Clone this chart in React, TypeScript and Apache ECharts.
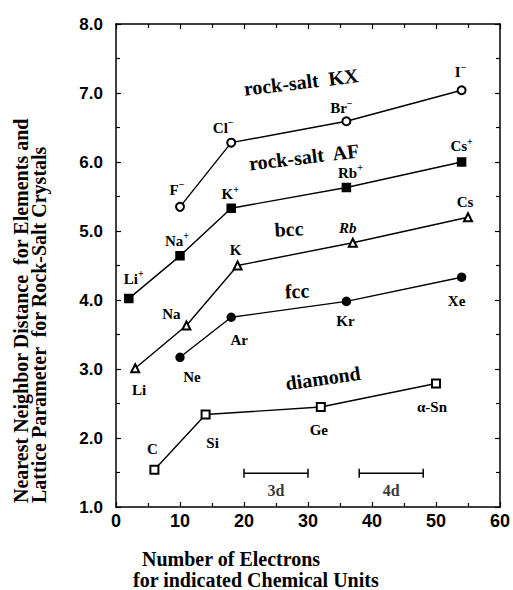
import React, { useEffect, useRef } from "react";
import * as echarts from "echarts";

// ---- data ----
const kxElectrons = [10, 18, 36, 54];
const kxDistance = [5.35, 6.28, 6.59, 7.04];
const kxIons = ["F", "Cl", "Br", "I"];

const afElectrons = [2, 10, 18, 36, 54];
const afDistance = [4.02, 4.64, 5.33, 5.63, 6.0];
const afIons = ["Li", "Na", "K", "Rb", "Cs"];

const bccElectrons = [3, 11, 19, 37, 55];
const bccDistance = [3.01, 3.63, 4.5, 4.83, 5.2];
const bccNames = ["Li", "Na", "K", "Rb", "Cs"];

const fccElectrons = [10, 18, 36, 54];
const fccDistance = [3.17, 3.75, 3.98, 4.33];
const fccNames = ["Ne", "Ar", "Kr", "Xe"];

const diaElectrons = [6, 14, 32, 50];
const diaDistance = [1.54, 2.34, 2.45, 2.79];
const diaNames = ["C", "Si", "Ge", "α-Sn"];

const bandNames = ["3d", "4d"];
const bandFrom = [20, 38];
const bandTo = [30, 48];
const bandLevel = 1.49;

const yTicks = [1, 2, 3, 4, 5, 6, 7, 8];

// ---- label offsets (style, px) ----
const kxOffsets = [[-3, -17], [-8, -15], [-5, -13], [-1, -18]];
const afOffsets = [[5, -20], [-3, -15], [-1, -14], [4, -15], [0, -16]];
const bccOffsets = [[4, 22], [-15, -12], [-2, -16], [-5, -15], [-3, -15]];
const fccOffsets = [[12, 20], [8, 23], [-1, 20], [-5, 24]];
const diaOffsets = [[-2, -21], [7, 28], [-2, 23], [-4, 24]];

const SERIF = "'Liberation Serif', 'Times New Roman', serif";
const SANS = "'Liberation Sans', Arial, sans-serif";

const rich = {
  n: { fontFamily: SERIF, fontWeight: "bold", fontSize: 15, color: "#000", lineHeight: 20, verticalAlign: "middle" },
  i: { fontFamily: SERIF, fontWeight: "bold", fontStyle: "italic", fontSize: 15, color: "#000", lineHeight: 20, verticalAlign: "middle" },
  s: { fontFamily: SERIF, fontWeight: "bold", fontSize: 10, color: "#000", lineHeight: 10, verticalAlign: "top" },
};

function buildData(xs: number[], ys: number[], names: string[], offsets: number[][], charge: string | null, italic: string[] = []) {
  return xs.map((x, k) => {
    const nm = names[k];
    const main = italic.indexOf(nm) >= 0 ? `{i|${nm}}` : `{n|${nm}}`;
    const text = charge ? `${main}{s|${charge}}` : main;
    return {
      value: [x, ys[k]],
      label: {
        show: true,
        position: "inside",
        offset: offsets[k],
        formatter: text,
        rich,
      },
    };
  });
}

function lineSeries(name: string, data: any[], symbol: string) {
  return {
    type: "line",
    name,
    data,
    symbol,
    symbolSize: 8,
    showSymbol: true,
    lineStyle: { color: "#000", width: 1.4 },
    itemStyle: { color: "#000", borderColor: "#000", borderWidth: 1.5 },
    emphasis: { disabled: true },
    z: 3,
  };
}

export default function App() {
  const ref = useRef<HTMLDivElement>(null);

  useEffect(() => {
    document.body.style.margin = "0";
    if (!ref.current) return;
    const chart = echarts.init(ref.current, null, { renderer: "svg" });

    const axisCommon = {
      type: "value",
      axisLine: { show: true, onZero: false, lineStyle: { color: "#000", width: 1.5 } },
      axisTick: { show: true, inside: true, length: 5, lineStyle: { color: "#000", width: 1.2 } },
      minorTick: { show: true, splitNumber: 2, length: 4, lineStyle: { color: "#000", width: 1.2 } },
      splitLine: { show: false },
      minorSplitLine: { show: false },
    };

    const bandSeries: any[] = bandNames.map((nm, k) => ({
      type: "line",
      name: nm,
      data: [[bandFrom[k], bandLevel], [bandTo[k], bandLevel]],
      symbol: "rect",
      symbolSize: [1.5, 9],
      lineStyle: { color: "#000", width: 1.4 },
      itemStyle: { color: "#000" },
      emphasis: { disabled: true },
    }));
    const bandLabelSeries = {
      type: "scatter",
      name: "bands",
      symbolSize: 0,
      data: bandNames.map((nm, k) => ({
        value: [(bandFrom[k] + bandTo[k]) / 2, bandLevel],
        label: { show: true, position: "inside", offset: [0, 17], formatter: nm, fontFamily: SERIF, fontWeight: "bold", fontSize: 16, color: "#000" },
      })),
      emphasis: { disabled: true },
    };

    const titleText = (text: string, x: number, y: number, rot: number, size = 20) => ({
      type: "text",
      x,
      y,
      rotation: rot,
      style: { text, fontFamily: SERIF, fontWeight: "bold", fontSize: size, fill: "#000", align: "center", verticalAlign: "middle" },
    });

    chart.setOption({
      animation: false,
      grid: { left: 116, right: 11, top: 24, bottom: 83, containLabel: false },
      xAxis: [
        {
          ...axisCommon,
          min: 0,
          max: 60,
          interval: 10,
          position: "bottom",
          axisLabel: { show: true, margin: 5, color: "#000", fontFamily: SANS, fontWeight: "bold", fontSize: 18 },
        },
        {
          ...axisCommon,
          min: 0,
          max: 60,
          interval: 10,
          position: "top",
          axisLabel: { show: false },
        },
      ],
      yAxis: [
        {
          ...axisCommon,
          min: yTicks[0],
          max: yTicks[yTicks.length - 1],
          interval: 1,
          position: "left",
          axisLabel: {
            show: true,
            margin: 13,
            color: "#000",
            fontFamily: SANS,
            fontWeight: "bold",
            fontSize: 17,
            formatter: (v: number) => v.toFixed(1),
          },
        },
        {
          ...axisCommon,
          min: yTicks[0],
          max: yTicks[yTicks.length - 1],
          interval: 1,
          position: "right",
          axisLabel: { show: false },
        },
      ],
      series: [
        lineSeries("rock-salt KX", buildData(kxElectrons, kxDistance, kxIons, kxOffsets, "−"), "emptyCircle"),
        lineSeries("rock-salt AF", buildData(afElectrons, afDistance, afIons, afOffsets, "+"), "rect"),
        lineSeries("bcc", buildData(bccElectrons, bccDistance, bccNames, bccOffsets, null, ["Rb"]), "emptyTriangle"),
        lineSeries("fcc", buildData(fccElectrons, fccDistance, fccNames, fccOffsets, null), "circle"),
        lineSeries("diamond", buildData(diaElectrons, diaDistance, diaNames, diaOffsets, null), "emptyRect"),
        ...bandSeries,
        bandLabelSeries,
      ],
      graphic: [
        titleText("rock-salt  KX", 301, 82, 0.12),
        titleText("rock-salt  AF", 304, 157, 0.12),
        titleText("bcc", 289, 229, 0.06),
        titleText("fcc", 297, 291, 0.05),
        titleText("diamond", 323, 378, 0.14),
        {
          type: "text",
          x: 142,
          y: 559,
          style: { text: "Number of Electrons", fontFamily: SERIF, fontWeight: "bold", fontSize: 20, fill: "#000", align: "left", verticalAlign: "middle" },
        },
        {
          type: "text",
          x: 133,
          y: 580,
          style: { text: "for indicated Chemical Units", fontFamily: SERIF, fontWeight: "bold", fontSize: 20, fill: "#000", align: "left", verticalAlign: "middle" },
        },
        {
          type: "text",
          x: 21,
          y: 503,
          rotation: Math.PI / 2,
          style: { text: "Nearest Neighbor Distance  for Elements and", fontFamily: SERIF, fontWeight: "bold", fontSize: 20, fill: "#000", align: "left", verticalAlign: "middle" },
        },
        {
          type: "text",
          x: 39,
          y: 503,
          rotation: Math.PI / 2,
          style: { text: "Lattice Parameter  for Rock-Salt Crystals", fontFamily: SERIF, fontWeight: "bold", fontSize: 20, fill: "#000", align: "left", verticalAlign: "middle" },
        },
      ],
    });

    return () => chart.dispose();
  }, []);

  return <div ref={ref} style={{ width: 513, height: 590 }} />;
}
